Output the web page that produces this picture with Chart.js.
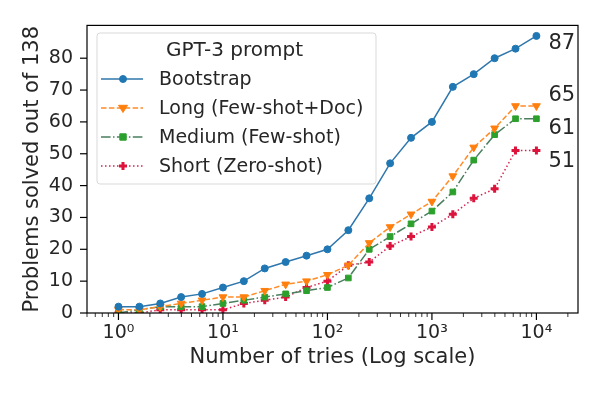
<!DOCTYPE html>
<html>
<head>
<meta charset="utf-8">
<script src="https://cdn.jsdelivr.net/npm/chart.js@4.4.1/dist/chart.umd.min.js"></script>
<style>
  html, body { margin: 0; padding: 0; background: #fff; }
  #wrap { width: 600px; height: 400px; }
</style>
</head>
<body>
<div id="wrap"><canvas id="chart"></canvas></div>
<script>
// number of tries (x) and problems solved per prompt type
const tries = [1, 1.585, 2.512, 3.981, 6.31, 10, 15.85, 25.12, 39.81, 63.1, 100, 158.5, 251.2, 398.1, 631, 1000, 1585, 2512, 3981, 6310, 10000];
const bootstrap = [2, 2, 3, 5, 6, 8, 10, 14, 16, 18, 20, 26, 36, 47, 55, 60, 71, 75, 80, 83, 87];
const longPrompt = [1, 1, 2, 3, 4, 5, 5, 7, 9, 10, 12, 15, 22, 27, 31, 35, 43, 52, 58, 65, 65];
const mediumPrompt = [0, 1, 2, 2, 2, 3, 4, 5, 6, 7, 8, 11, 20, 24, 28, 32, 38, 48, 56, 61, 61];
const shortPrompt = [0, 0, 1, 1, 1, 1, 3, 4, 5, 8, 10, 15, 16, 21, 24, 27, 31, 36, 39, 51, 51];
const seriesNames = ['Bootstrap', 'Long (Few-shot+Doc)', 'Medium (Few-shot)', 'Short (Zero-shot)'];
const yTicks = [0, 10, 20, 30, 40, 50, 60, 70, 80];
const xDecades = [1, 10, 100, 1000, 10000];
const supers = ['⁰', '¹', '²', '³', '⁴'];

const FONT = 'DejaVu Sans';
const TXT = '#262626';

function pts(vals) {
    return vals.map((v, i) => ({ x: tries[i], y: v }));
}

// little marker painter, used for the legend samples
function drawMarker(ctx, ds, x, y) {
    ctx.save();
    ctx.fillStyle = ds.pointBackgroundColor;
    ctx.strokeStyle = ds.pointBorderColor;
    ctx.lineWidth = ds.pointBorderWidth;
    ctx.setLineDash([]);
    let r = ds.pointRadius;
    ctx.beginPath();
    switch (ds.pointStyle) {
        case 'circle':
            ctx.arc(x, y, r, 0, Math.PI * 2);
            ctx.fill(); ctx.stroke();
            break;
        case 'triangle':
            ctx.moveTo(x - r, y - r * 0.6);
            ctx.lineTo(x + r, y - r * 0.6);
            ctx.lineTo(x, y + r);
            ctx.closePath();
            ctx.fill(); ctx.stroke();
            break;
        case 'rect':
            ctx.rect(x - r * 0.8, y - r * 0.8, r * 1.6, r * 1.6);
            ctx.fill(); ctx.stroke();
            break;
        case 'cross':
            ctx.moveTo(x - r, y); ctx.lineTo(x + r, y);
            ctx.moveTo(x, y - r); ctx.lineTo(x, y + r);
            ctx.stroke();
            break;
    }
    ctx.restore();
}

const decor = {
    id: 'decor',
    afterDraw(chart) {
        const ctx = chart.ctx;
        const a = chart.chartArea;
        const xs = chart.scales.x;
        const ys = chart.scales.y;

        // frame
        ctx.save();
        ctx.strokeStyle = '#000';
        ctx.lineWidth = 1.2;
        ctx.strokeRect(a.left, a.top, a.right - a.left, a.bottom - a.top);

        // x ticks, major and minor
        xs.ticks.forEach(t => {
            const px = xs.getPixelForValue(t.value);
            const lg = Math.log10(t.value);
            const major = Math.abs(lg - Math.round(lg)) < 1e-9;
            ctx.lineWidth = major ? 1.2 : 0.8;
            ctx.beginPath();
            ctx.moveTo(px, a.bottom);
            ctx.lineTo(px, a.bottom + (major ? 7 : 4));
            ctx.stroke();
        });
        // y ticks
        ctx.lineWidth = 1.2;
        ys.ticks.forEach(t => {
            const py = ys.getPixelForValue(t.value);
            ctx.beginPath();
            ctx.moveTo(a.left, py);
            ctx.lineTo(a.left - 7, py);
            ctx.stroke();
        });

        // end labels beside the last points
        const offs = [8, -10, 10, 11];
        ctx.fillStyle = TXT;
        ctx.font = '21px "' + FONT + '"';
        ctx.textAlign = 'left';
        ctx.textBaseline = 'middle';
        chart.data.datasets.forEach((ds, i) => {
            const last = ds.data[ds.data.length - 1];
            ctx.fillText(String(last.y), xs.getPixelForValue(last.x) + 12, ys.getPixelForValue(last.y) + offs[i]);
        });

        // legend
        const bx = 97, by = 33, bw = 279, bh = 151;
        ctx.fillStyle = 'rgba(255,255,255,0.8)';
        ctx.strokeStyle = '#d9d9d9';
        ctx.lineWidth = 1;
        ctx.beginPath();
        ctx.roundRect(bx, by, bw, bh, 3);
        ctx.fill();
        ctx.stroke();

        ctx.fillStyle = TXT;
        ctx.font = '20px "' + FONT + '"';
        ctx.textAlign = 'center';
        ctx.fillText('GPT-3 prompt', bx + bw / 2 - 2, by + 18);

        ctx.textAlign = 'left';
        ctx.font = '19px "' + FONT + '"';
        chart.data.datasets.forEach((ds, i) => {
            const ly = by + 46 + i * 29;
            ctx.save();
            ctx.strokeStyle = ds.borderColor;
            ctx.lineWidth = ds.borderWidth;
            ctx.setLineDash(ds.borderDash || []);
            ctx.beginPath();
            ctx.moveTo(bx + 4, ly);
            ctx.lineTo(bx + 46, ly);
            ctx.stroke();
            ctx.restore();
            drawMarker(ctx, ds, bx + 26, ly);
            ctx.fillStyle = TXT;
            ctx.fillText(ds.label, bx + 62, ly + 1);
        });
        ctx.restore();
    }
};

const datasets = [
    {
        label: seriesNames[0],
        data: pts(bootstrap),
        borderColor: '#2f77ad',
        borderWidth: 1.5,
        pointStyle: 'circle',
        pointRadius: 3.5,
        pointBackgroundColor: '#1f77b4',
        pointBorderColor: '#1f77b4',
        pointBorderWidth: 1
    },
    {
        label: seriesNames[1],
        data: pts(longPrompt),
        borderColor: '#ff8c26',
        borderWidth: 1.5,
        borderDash: [5.5, 2.4],
        pointStyle: 'triangle',
        pointRotation: 180,
        pointRadius: 4.5,
        pointBackgroundColor: '#ff7f0e',
        pointBorderColor: '#ff7f0e',
        pointBorderWidth: 1
    },
    {
        label: seriesNames[2],
        data: pts(mediumPrompt),
        borderColor: '#4a7f5f',
        borderWidth: 1.5,
        borderDash: [9.6, 2.4, 1.5, 2.4],
        pointStyle: 'rect',
        pointRadius: 4,
        pointBackgroundColor: '#2ca02c',
        pointBorderColor: '#2ca02c',
        pointBorderWidth: 1
    },
    {
        label: seriesNames[3],
        data: pts(shortPrompt),
        borderColor: '#d6204e',
        borderWidth: 1.5,
        borderDash: [1.5, 2.5],
        pointStyle: 'cross',
        pointRadius: 4,
        pointBackgroundColor: '#dc143c',
        pointBorderColor: '#dc143c',
        pointBorderWidth: 3
    }
];

new Chart(document.getElementById('chart'), {
    type: 'line',
    data: { datasets: datasets },
    options: {
        responsive: true,
        maintainAspectRatio: false,
        animation: false,
        devicePixelRatio: 1,
        layout: { padding: { top: 23, right: 22, left: 20, bottom: 29 } },
        plugins: {
            legend: { display: false },
            tooltip: { enabled: false }
        },
        scales: {
            x: {
                type: 'logarithmic',
                min: 0.5,
                max: 25000,
                afterFit: (scale) => { scale.height = 58; },
                afterBuildTicks: (scale) => {
                    const t = [];
                    [0.1, 1, 10, 100, 1000, 10000].forEach(d => {
                        for (let m = 1; m <= 9; m++) {
                            const v = d * m;
                            if (v >= 0.5 && v <= 25000) t.push({ value: v });
                        }
                    });
                    scale.ticks = t;
                },
                grid: { display: false, drawTicks: false },
                border: { display: false },
                ticks: {
                    autoSkip: false,
                    maxRotation: 0,
                    padding: 9,
                    color: TXT,
                    font: { family: FONT, size: 19 },
                    callback: function (value) {
                        const k = xDecades.indexOf(value);
                        return k >= 0 ? '10' + supers[k] : '';
                    }
                },
                title: {
                    display: true,
                    text: 'Number of tries (Log scale)',
                    color: TXT,
                    font: { family: FONT, size: 21 },
                    padding: { top: 0, bottom: 1 }
                }
            },
            y: {
                min: 0,
                max: 90.3,
                afterFit: (scale) => { scale.width = 67; },
                afterBuildTicks: (scale) => {
                    scale.ticks = yTicks.map(v => ({ value: v }));
                },
                grid: { display: false, drawTicks: false },
                border: { display: false },
                ticks: {
                    padding: 14,
                    color: TXT,
                    font: { family: FONT, size: 19 }
                },
                title: {
                    display: true,
                    text: 'Problems solved out of 138',
                    color: TXT,
                    font: { family: FONT, size: 21 },
                    padding: { top: 0, bottom: 4 }
                }
            }
        }
    },
    plugins: [decor]
});
</script>
</body>
</html>
